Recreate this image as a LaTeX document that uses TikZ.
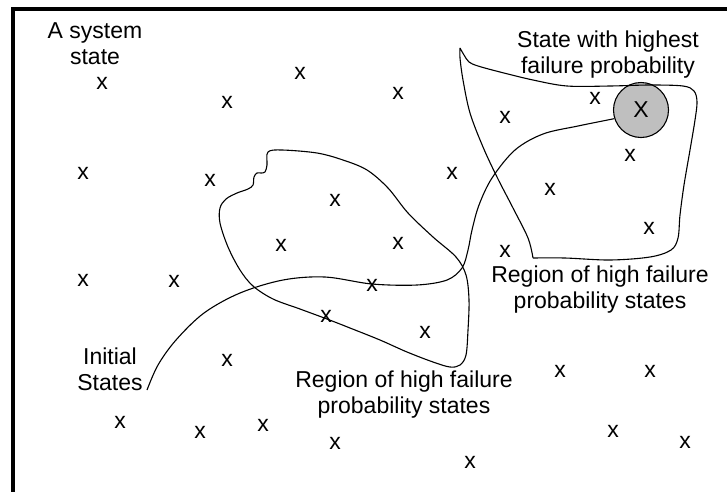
\documentclass[tikz,border=0pt]{standalone}
\usepackage{fontspec}
\setmainfont{Liberation Sans}

\begin{document}
\begin{tikzpicture}[
    x=1pt, y=-1pt,
    font=\fontsize{23}{26}\selectfont,
    note/.style={align=center, inner sep=0pt},
    state/.style={inner sep=0pt},
    region/.style={line width=1.1pt, line join=round},
    frame/.style={line width=4.5pt},
    peak/.style={
        circle, draw,
        line width=1.1pt,
        fill=black!25,
        minimum size=55pt,
        inner sep=0pt
    }
]
\useasboundingbox (0,0) rectangle (727,491);

% ===== FRAME (ONLY TOP AND LEFT SIDE SHOWN) =====
\draw[frame] (13,500) -- (13,9) -- (740,9);

% ===== LABELS =====
\node[note] (sysstate) at (95,44) {A system\\state};
\node[note] (highest) at (608,55) {State with highest\\failure probability};
\node[note] (regionR) at (600,290) {Region of high failure\\probability states};
\node[note] (initial) at (110,369) {Initial\\States};
\node[note] (regionB) at (404,395) {Region of high failure\\probability states};

% ===== STATES =====
\foreach \px/\py [count=\i] in {
    102/83, 300/73, 227/102, 398/93, 83/173, 210/180, 335/200,
    281/245, 398/243, 452/173, 83/280, 174/281, 372/285, 326/316,
    425/332, 227/360, 505/117, 595/98, 630/155, 550/189, 649/228,
    505/251, 560/371, 650/371, 120/422, 200/432, 263/425, 335/443,
    470/462, 613/431, 685/442}
  \node[state] (s\i) at (\px,\py) {x};

% state with highest failure probability
\node[peak] (maxstate) at (641,110) {X};

% ===== REGIONS =====
% left region, wavy at its top left
\draw[region] plot[smooth cycle, tension=0.55] coordinates {
    (268,152) (282,150) (317,153) (343,160) (367,170) (388,188)
    (408,213) (433,237) (456,257) (466,275) (469,300) (468,330)
    (466,355) (460,365) (450,367) (433,362) (407,352) (380,340)
    (350,328) (327,319) (300,309) (273,299) (253,286) (240,270)
    (228,247) (220,223) (220,208) (226,199) (237,193) (248,189)
    (253,185) (254,177) (257,173) (261,173) (265,172) (267,165)};

% right region, sharp tip at top and corner at bottom left
\draw[region]
    plot[smooth, tension=0.55] coordinates {
        (533,258) (528,238) (513,208) (497,177) (483,147) (470,113)
        (463,80) (460,58) (460,48)}
    plot[smooth, tension=0.55] coordinates {
        (460,48) (464,55) (469,62) (478,66) (500,72) (533,80)
        (567,86) (610,86) (650,85) (683,86) (694,91) (697,102)
        (695,120) (690,150) (684,185) (680,215) (678,238) (671,250)
        (650,257) (610,260) (565,258) (533,258)};

% ===== PATH FROM INITIAL STATES =====
\coordinate (init) at (147,390);
\draw[region] plot[smooth, tension=0.55] coordinates {
    (init) (158,365) (176,340) (204,313) (240,293) (283,280)
    (325,277) (372,284) (417,285) (447,280) (462,268) (468,250)
    (472,230) (479,205) (492,178) (515,150) (543,134) (578,126)
    (maxstate.198)};

\end{tikzpicture}
\end{document}
